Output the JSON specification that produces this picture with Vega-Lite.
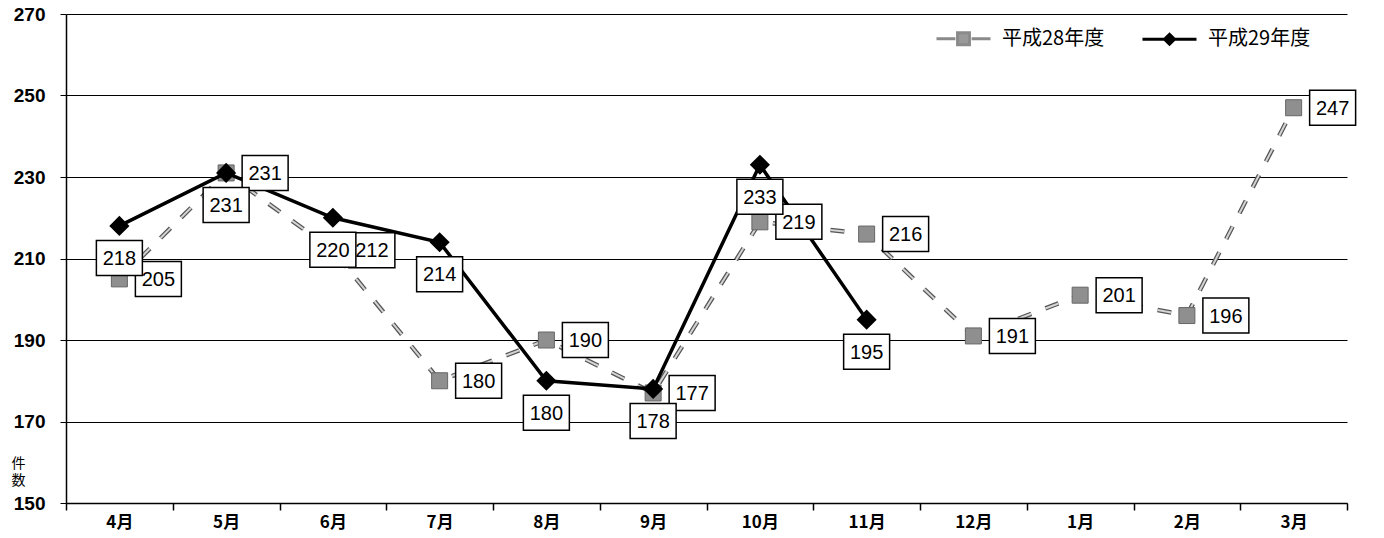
{
  "$schema": "https://vega.github.io/schema/vega-lite/v6.json",
  "width": 1281,
  "height": 489,
  "autosize": {"type": "none"},
  "padding": {"left": 66, "top": 14, "right": 37, "bottom": 35},
  "background": "white",
  "config": {
    "view": {"stroke": null},
    "font": "Noto Sans CJK JP",
    "legend": {
      "orient": "none",
      "legendX": 885,
      "legendY": 12,
      "direction": "horizontal",
      "title": null,
      "labelFont": "Noto Sans CJK JP",
      "labelFontSize": 20,
      "labelColor": "#000000",
      "labelOffset": 26,
      "symbolSize": 467,
      "symbolStrokeWidth": 3,
      "symbolOpacity": 1,
      "columnPadding": 31
    }
  },
  "data": {
    "values": [
      {"month": "4月", "series": "平成28年度", "value": 205},
      {"month": "5月", "series": "平成28年度", "value": 231},
      {"month": "6月", "series": "平成28年度", "value": 212},
      {"month": "7月", "series": "平成28年度", "value": 180},
      {"month": "8月", "series": "平成28年度", "value": 190},
      {"month": "9月", "series": "平成28年度", "value": 177},
      {"month": "10月", "series": "平成28年度", "value": 219},
      {"month": "11月", "series": "平成28年度", "value": 216},
      {"month": "12月", "series": "平成28年度", "value": 191},
      {"month": "1月", "series": "平成28年度", "value": 201},
      {"month": "2月", "series": "平成28年度", "value": 196},
      {"month": "3月", "series": "平成28年度", "value": 247},
      {"month": "4月", "series": "平成29年度", "value": 218},
      {"month": "5月", "series": "平成29年度", "value": 231},
      {"month": "6月", "series": "平成29年度", "value": 220},
      {"month": "7月", "series": "平成29年度", "value": 214},
      {"month": "8月", "series": "平成29年度", "value": 180},
      {"month": "9月", "series": "平成29年度", "value": 178},
      {"month": "10月", "series": "平成29年度", "value": 233},
      {"month": "11月", "series": "平成29年度", "value": 195}
    ]
  },
  "encoding": {
    "x": {
      "field": "month",
      "type": "ordinal",
      "sort": ["4月", "5月", "6月", "7月", "8月", "9月", "10月", "11月", "12月", "1月", "2月", "3月"],
      "scale": {"type": "band", "paddingInner": 0, "paddingOuter": 0},
      "axis": {
        "title": null,
        "labelAngle": 0,
        "labelFont": "Noto Sans CJK JP",
        "labelFontSize": 17,
        "labelFontWeight": "bold",
        "labelColor": "#000000",
        "labelPadding": 4,
        "tickBand": "extent",
        "tickColor": "#000000",
        "tickSize": 7,
        "tickWidth": 1.5,
        "domainColor": "#000000",
        "domainWidth": 1.5,
        "grid": false
      }
    },
    "y": {
      "field": "value",
      "type": "quantitative",
      "scale": {"domain": [150, 270], "nice": false, "zero": false},
      "axis": {
        "values": [150, 170, 190, 210, 230, 250, 270],
        "title": ["件", "数"],
        "titleAngle": 0,
        "titleX": -48,
        "titleY": 442,
        "titleAlign": "center",
        "titleBaseline": "top",
        "titleFont": "Noto Sans CJK JP",
        "titleFontSize": 14,
        "titleFontWeight": "normal",
        "titleLineHeight": 17,
        "titleColor": "#000000",
        "labelFont": "Liberation Sans",
        "labelFontSize": 19,
        "labelFontWeight": "bold",
        "labelColor": "#000000",
        "labelPadding": 15,
        "tickSize": 6,
        "tickColor": "#000000",
        "domainColor": "#000000",
        "domainWidth": 1.5,
        "grid": true,
        "gridColor": "#000000",
        "gridWidth": 1,
        "gridOpacity": 1
      }
    }
  },
  "layer": [
    {
      "transform": [{"filter": "datum.series === '平成28年度'"}],
      "mark": {"type": "line", "stroke": "#555555", "strokeWidth": 4.5, "strokeDash": [14, 15]},
      "encoding": {}
    },
    {
      "transform": [{"filter": "datum.series === '平成28年度'"}],
      "mark": {"type": "line", "stroke": "#d4d4d4", "strokeWidth": 2, "strokeDash": [14, 15]},
      "encoding": {}
    },
    {
      "transform": [{"filter": "datum.series === '平成28年度'"}],
      "mark": {"type": "point", "shape": "square", "size": 256, "filled": true, "fill": "#8f8f8f", "stroke": "#666666", "strokeWidth": 1, "opacity": 1}
    },
    {
      "transform": [{"filter": "datum.series === '平成29年度'"}],
      "mark": {"type": "line", "stroke": "#000000", "strokeWidth": 3.5},
      "encoding": {}
    },
    {
      "transform": [{"filter": "datum.series === '平成29年度'"}],
      "mark": {"type": "point", "shape": "diamond", "size": 300, "filled": true, "fill": "#000000", "stroke": "#000000", "opacity": 1}
    },
    {
      "transform": [{"filter": "datum.series === '平成28年度'"}],
      "mark": {"type": "point", "shape": "M-1.314,-1L1.314,-1L1.314,1L-1.314,1Z", "size": 1225, "filled": true, "fill": "#ffffff", "stroke": "#000000", "strokeWidth": 1.5, "opacity": 1, "xOffset": 39}
    },
    {
      "transform": [{"filter": "datum.series === '平成28年度'"}],
      "mark": {"type": "text", "font": "Liberation Sans", "fontSize": 20, "color": "#000000", "align": "center", "baseline": "middle", "xOffset": 39, "yOffset": 1},
      "encoding": {"text": {"field": "value", "type": "quantitative"}}
    },
    {
      "transform": [{"filter": "datum.series === '平成29年度'"}],
      "mark": {"type": "point", "shape": "M-1.314,-1L1.314,-1L1.314,1L-1.314,1Z", "size": 1225, "filled": true, "fill": "#ffffff", "stroke": "#000000", "strokeWidth": 1.5, "opacity": 1, "yOffset": 32}
    },
    {
      "transform": [{"filter": "datum.series === '平成29年度'"}],
      "mark": {"type": "text", "font": "Liberation Sans", "fontSize": 20, "color": "#000000", "align": "center", "baseline": "middle", "yOffset": 33},
      "encoding": {"text": {"field": "value", "type": "quantitative"}}
    },
    {
      "transform": [{"filter": "datum.value < 0"}],
      "mark": {"type": "point", "filled": true, "strokeWidth": 3, "opacity": 1},
      "encoding": {
        "fill": {
          "field": "series",
          "type": "nominal",
          "scale": {"domain": ["平成28年度", "平成29年度"], "range": ["#999999", "#000000"]}
        },
        "stroke": {
          "field": "series",
          "type": "nominal",
          "scale": {"domain": ["平成28年度", "平成29年度"], "range": ["#8a8a8a", "#000000"]}
        },
        "shape": {
          "field": "series",
          "type": "nominal",
          "scale": {
            "domain": ["平成28年度", "平成29年度"],
            "range": [
              "M-2.5,0L-0.75,0M0.75,0L2.5,0M-0.55,-0.55L0.55,-0.55L0.55,0.55L-0.55,0.55Z",
              "M-2.5,0L2.5,0M0,-0.46L0.46,0L0,0.46L-0.46,0Z"
            ]
          }
        }
      }
    }
  ]
}
